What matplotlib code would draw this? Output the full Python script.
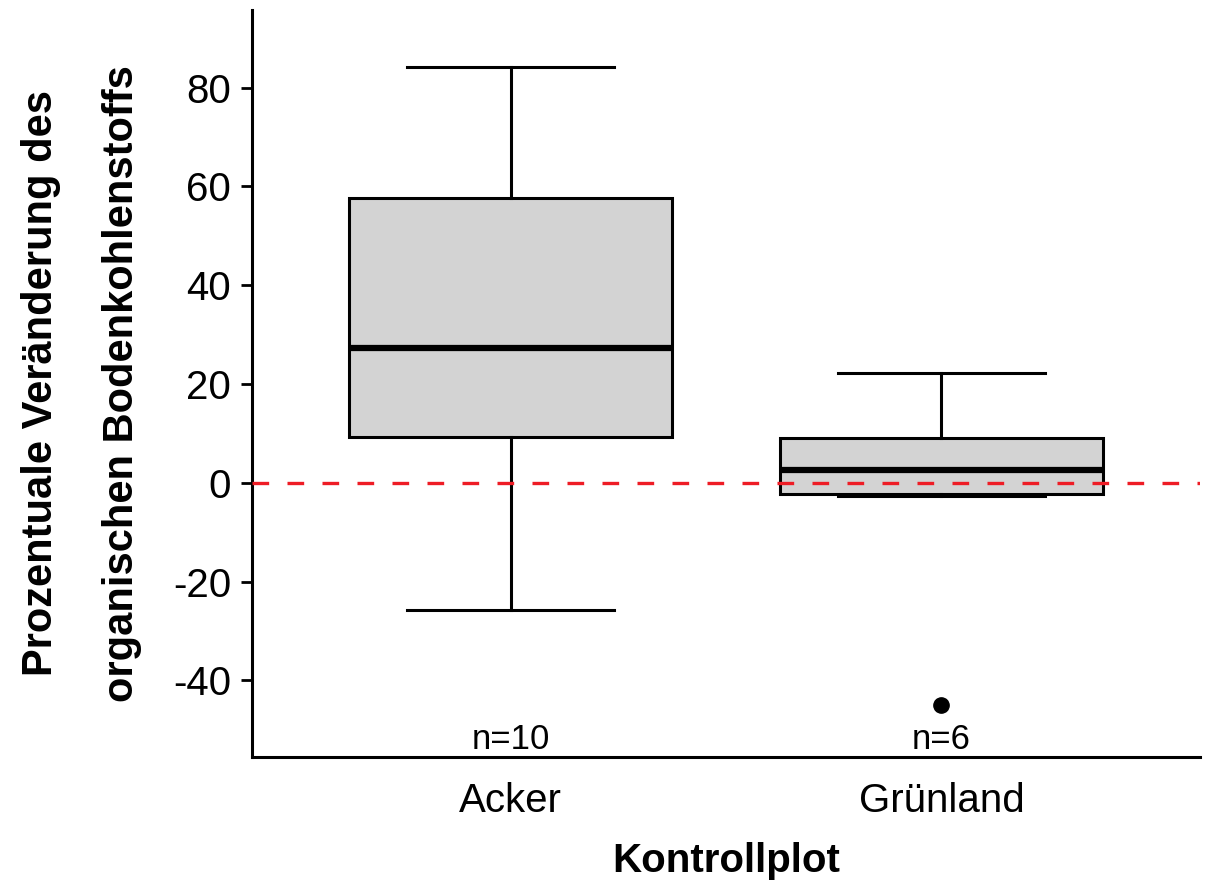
import matplotlib.pyplot as plt

plt.rcParams['font.family'] = ['Liberation Sans', 'DejaVu Sans']
plt.rcParams['axes.unicode_minus'] = False

# values
groups = ['Acker', 'Grünland']
q1 = [9.3, -2.2]
med = [27.3, 2.6]
q3 = [57.7, 9.1]
whislo = [-25.7, -2.6]
whishi = [84.2, 22.3]
outliers = [[], [-44.9]]
n_labels = ['n=10', 'n=6']

stats = []
for i in range(len(groups)):
    stats.append({'label': groups[i], 'q1': q1[i], 'med': med[i], 'q3': q3[i],
                  'whislo': whislo[i], 'whishi': whishi[i], 'fliers': outliers[i]})

fig = plt.figure(figsize=(12.1, 8.8), dpi=100)
ax = fig.add_axes([252 / 1210, 123 / 880, 948 / 1210, 747 / 880])

lw = 2.2
ax.bxp(stats, positions=[1, 2], widths=0.75, patch_artist=True,
       boxprops=dict(facecolor='#d3d3d3', edgecolor='black', linewidth=lw),
       medianprops=dict(color='black', linewidth=4.5),
       whiskerprops=dict(color='black', linewidth=lw),
       capprops=dict(color='black', linewidth=lw),
       capwidths=0.48,
       flierprops=dict(marker='o', markerfacecolor='black', markeredgecolor='black',
                       markersize=11))

ax.axhline(0, color='#ee1c25', linestyle=(0, (5, 5.5)), linewidth=2.4, zorder=5)

for i, t in enumerate(n_labels):
    ax.text(i + 1, -52, t, ha='center', va='center', fontsize=25)

ax.set_xlim(0.4, 2.6)
ax.set_ylim(-55.5, 95.7)
ax.set_yticks([-40, -20, 0, 20, 40, 60, 80])
ax.set_xticks([1, 2])
ax.set_xticklabels(groups)

for s in ['top', 'right']:
    ax.spines[s].set_visible(False)
for s in ['left', 'bottom']:
    ax.spines[s].set_linewidth(2.2)

ax.tick_params(axis='y', length=8, width=2, labelsize=29, pad=7)
ax.tick_params(axis='x', length=0, labelsize=29, pad=18)

ax.set_xlabel('Kontrollplot', fontsize=29, fontweight='bold', labelpad=16)

fig.text(41 / 1210, 1 - 383 / 880, 'Prozentuale Veränderung des', rotation=90,
         ha='center', va='center', fontsize=30, fontweight='bold')
fig.text(122 / 1210, 1 - 384 / 880, 'organischen Bodenkohlenstoffs', rotation=90,
         ha='center', va='center', fontsize=30, fontweight='bold')

fig.savefig('out.png', dpi=100)
